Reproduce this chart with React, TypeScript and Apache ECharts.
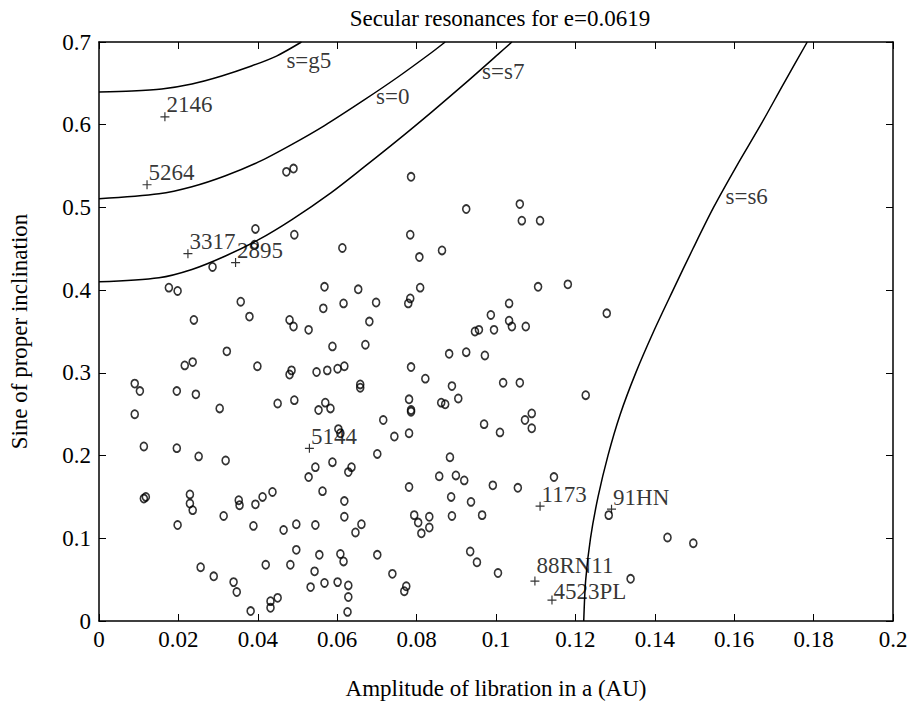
import React, { useEffect, useRef } from "react";
import * as echarts from "echarts";

const FONT = "'Liberation Serif', 'Times New Roman', serif";

const titleText = "Secular resonances for e=0.0619";
const xAxisTitle = "Amplitude of libration in a (AU)";
const yAxisTitle = "Sine of proper inclination";

// Asteroids plotted as 'o'
const circles: [number, number][] = [
  [0.0472, 0.543], [0.049, 0.547], [0.0394, 0.474], [0.0492, 0.467], [0.0613, 0.451],
  [0.0392, 0.455], [0.0286, 0.428], [0.0176, 0.403], [0.0198, 0.399], [0.0357, 0.386],
  [0.0379, 0.368], [0.0239, 0.364], [0.048, 0.364], [0.049, 0.356], [0.0528, 0.352],
  [0.0568, 0.404], [0.0565, 0.378], [0.0616, 0.384], [0.0588, 0.332], [0.0322, 0.326],
  [0.0216, 0.309], [0.0236, 0.313], [0.0399, 0.308], [0.048, 0.298], [0.0485, 0.303],
  [0.0548, 0.301], [0.0575, 0.303], [0.0601, 0.305], [0.0618, 0.308], [0.009, 0.287],
  [0.0103, 0.278], [0.0196, 0.278], [0.0244, 0.274], [0.009, 0.25], [0.0304, 0.257],
  [0.045, 0.263], [0.0492, 0.267], [0.0553, 0.255], [0.057, 0.264], [0.0583, 0.257],
  [0.0113, 0.211], [0.0196, 0.209], [0.0251, 0.199], [0.0319, 0.194], [0.0588, 0.192],
  [0.0545, 0.186], [0.0528, 0.174], [0.0563, 0.157], [0.0603, 0.232], [0.0608, 0.227],
  [0.0113, 0.148], [0.0118, 0.15], [0.0229, 0.153], [0.0229, 0.142], [0.0236, 0.134],
  [0.0352, 0.146], [0.0354, 0.14], [0.0394, 0.141], [0.0412, 0.15], [0.0437, 0.156],
  [0.0314, 0.127], [0.0198, 0.116], [0.0389, 0.115], [0.0465, 0.11], [0.0497, 0.117],
  [0.0545, 0.116], [0.0497, 0.086], [0.0555, 0.08], [0.0608, 0.081], [0.0616, 0.072],
  [0.042, 0.068], [0.0482, 0.068], [0.0543, 0.06], [0.0256, 0.065], [0.0289, 0.054],
  [0.0339, 0.047], [0.0347, 0.035], [0.0533, 0.041], [0.0568, 0.046], [0.0601, 0.047],
  [0.0432, 0.024], [0.045, 0.028], [0.0432, 0.016], [0.0382, 0.012], [0.0716, 0.243],
  [0.0786, 0.253], [0.0744, 0.223], [0.0781, 0.227], [0.097, 0.238], [0.101, 0.228],
  [0.1073, 0.243], [0.109, 0.251], [0.109, 0.233], [0.0701, 0.202], [0.0636, 0.186],
  [0.0628, 0.18], [0.0884, 0.198], [0.0857, 0.175], [0.0899, 0.176], [0.092, 0.17],
  [0.0992, 0.164], [0.1055, 0.161], [0.1146, 0.174], [0.0781, 0.162], [0.0618, 0.145],
  [0.0618, 0.126], [0.0661, 0.117], [0.0646, 0.107], [0.0794, 0.128], [0.0804, 0.119],
  [0.0812, 0.106], [0.0832, 0.126], [0.0832, 0.113], [0.0887, 0.15], [0.0937, 0.144],
  [0.0889, 0.127], [0.0965, 0.128], [0.0701, 0.08], [0.0935, 0.084], [0.0952, 0.071],
  [0.1005, 0.058], [0.0739, 0.057], [0.0628, 0.043], [0.0628, 0.029], [0.0626, 0.011],
  [0.0774, 0.042], [0.0769, 0.036], [0.0784, 0.467], [0.0807, 0.44], [0.0864, 0.448],
  [0.106, 0.504], [0.1065, 0.484], [0.1111, 0.484], [0.0786, 0.537], [0.0925, 0.498],
  [0.0653, 0.401], [0.0809, 0.403], [0.0698, 0.385], [0.0784, 0.39], [0.0779, 0.384],
  [0.1106, 0.404], [0.1181, 0.407], [0.0681, 0.362], [0.1033, 0.384], [0.0987, 0.37],
  [0.1033, 0.363], [0.0947, 0.35], [0.0957, 0.352], [0.0995, 0.352], [0.104, 0.356],
  [0.1075, 0.356], [0.0671, 0.334], [0.0882, 0.323], [0.0925, 0.325], [0.0972, 0.321],
  [0.0786, 0.307], [0.0822, 0.293], [0.0658, 0.286], [0.0658, 0.282], [0.0889, 0.284],
  [0.0781, 0.268], [0.0786, 0.255], [0.0862, 0.264], [0.0872, 0.262], [0.0905, 0.269],
  [0.1018, 0.288], [0.106, 0.288], [0.1279, 0.372], [0.1226, 0.273], [0.1432, 0.101],
  [0.1497, 0.094], [0.1339, 0.051], [0.1284, 0.128],
];

// Named asteroids plotted as '+'
const namedNames = ["2146", "5264", "3317", "2895", "5144", "1173", "91HN", "88RN11", "4523PL"];
const namedX = [0.0166, 0.0121, 0.0224, 0.0344, 0.053, 0.1111, 0.1291, 0.1098, 0.1141];
const namedY = [0.6095, 0.5274, 0.4441, 0.4333, 0.2088, 0.1388, 0.1352, 0.0483, 0.0253];

// Secular resonance curves
const curveG5: [number, number][] = [
  [0, 0.6396], [0.0083, 0.6408], [0.0158, 0.6433], [0.0234, 0.6493], [0.0309, 0.659],
  [0.0384, 0.671], [0.0447, 0.683], [0.051, 0.7],
];
const curveZero: [number, number][] = [
  [0, 0.5105], [0.0151, 0.5165], [0.0234, 0.525], [0.0317, 0.538], [0.0402, 0.555],
  [0.0485, 0.576], [0.0568, 0.599], [0.0668, 0.63], [0.0754, 0.658], [0.0837, 0.687],
  [0.0872, 0.7],
];
const curveS7: [number, number][] = [
  [0, 0.41], [0.0151, 0.415], [0.0234, 0.425], [0.0317, 0.441], [0.0402, 0.461],
  [0.0485, 0.485], [0.0585, 0.518], [0.0668, 0.549], [0.0754, 0.582], [0.0837, 0.615],
  [0.092, 0.649], [0.1005, 0.685], [0.104, 0.7],
];
const curveS6: [number, number][] = [
  [0.1221, 0], [0.1226, 0.05], [0.1238, 0.1], [0.1257, 0.15], [0.1282, 0.2],
  [0.1313, 0.25], [0.1352, 0.3], [0.1397, 0.35], [0.1446, 0.4], [0.1496, 0.45],
  [0.1548, 0.5], [0.1606, 0.55], [0.1667, 0.6], [0.1725, 0.65], [0.1784, 0.7],
];

const curveLabels = ["s=g5", "s=0", "s=s7", "s=s6"];
const curveLabelX = [0.0472, 0.0698, 0.0965, 0.1578];
const curveLabelY = [0.678, 0.6336, 0.6638, 0.5129];

const xTicks = { min: 0, max: 0.2, interval: 0.02 };
const yTicks = { min: 0, max: 0.7, interval: 0.1 };

const PLUS = "path://M4.35,0h1.3v4.35h4.35v1.3h-4.35v4.35h-1.3v-4.35h-4.35v-1.3h4.35z";
const FS = 23;

export default function App() {
  const ref = useRef<HTMLDivElement>(null);
  useEffect(() => {
    if (!ref.current) return;
    const chart = echarts.init(ref.current, null, { renderer: "svg" });
    const axisCommon = {
      axisLine: { show: true, onZero: false, lineStyle: { color: "#000", width: 1.5 } },
      axisTick: { show: true, inside: true, length: 7, lineStyle: { color: "#000", width: 1 } },
      splitLine: { show: false },
    };
    const lineSeries = (data: [number, number][]) => ({
      type: "line",
      data,
      smooth: 0.3,
      showSymbol: false,
      symbol: "none",
      lineStyle: { color: "#000", width: 1.5 },
      silent: true,
      z: 3,
    });
    // small vertical nudges so the two stacked labels do not collide
    const labelDy: Record<string, number> = { "88RN11": -16, "4523PL": -9 };
    chart.setOption({
      animation: false,
      backgroundColor: "#fff",
      textStyle: { fontFamily: FONT },
      title: {
        text: titleText,
        left: 495,
        top: 2,
        textAlign: "center",
        textStyle: { fontFamily: FONT, fontSize: FS, fontWeight: "normal", color: "#000" },
      },
      grid: { left: 97, right: 19, top: 42, bottom: 83, containLabel: false },
      xAxis: [
        {
          type: "value",
          position: "bottom",
          ...xTicks,
          ...axisCommon,
          name: xAxisTitle,
          nameLocation: "middle",
          nameGap: 56,
          nameTextStyle: { fontFamily: FONT, fontSize: FS, color: "#000" },
          axisLabel: { color: "#000", fontFamily: FONT, fontSize: FS, margin: 7 },
        },
        {
          type: "value",
          position: "top",
          ...xTicks,
          ...axisCommon,
          axisLabel: { show: false },
        },
      ],
      yAxis: [
        {
          type: "value",
          position: "left",
          ...yTicks,
          ...axisCommon,
          name: yAxisTitle,
          nameLocation: "middle",
          nameGap: 68,
          nameTextStyle: { fontFamily: FONT, fontSize: FS, color: "#000" },
          axisLabel: { color: "#000", fontFamily: FONT, fontSize: FS, margin: 8 },
        },
        {
          type: "value",
          position: "right",
          ...yTicks,
          ...axisCommon,
          axisLabel: { show: false },
        },
      ],
      series: [
        lineSeries(curveG5),
        lineSeries(curveZero),
        lineSeries(curveS7),
        lineSeries(curveS6),
        {
          type: "scatter",
          data: circles,
          symbol: "circle",
          symbolSize: [7, 8],
          itemStyle: { color: "rgba(0,0,0,0)", borderColor: "#000", borderWidth: 1.7 },
          z: 4,
        },
        {
          type: "scatter",
          data: namedNames.map((n, i) => ({
            name: n,
            value: [namedX[i], namedY[i]],
            label: { offset: [-3, labelDy[n] ?? -12] },
          })),
          symbol: PLUS,
          symbolSize: 9,
          itemStyle: { color: "#000" },
          label: {
            show: true,
            position: "right",
            distance: 0,
            offset: [-3, -12],
            formatter: "{b}",
            fontFamily: FONT,
            fontSize: FS,
            lineHeight: 17,
            color: "#000",
          },
          z: 5,
        },
        {
          type: "scatter",
          data: curveLabels.map((n, i) => ({ name: n, value: [curveLabelX[i], curveLabelY[i]] })),
          symbolSize: 0,
          itemStyle: { color: "rgba(0,0,0,0)" },
          label: {
            show: true,
            position: "right",
            distance: 0,
            formatter: "{b}",
            fontFamily: FONT,
            fontSize: FS,
            color: "#000",
          },
          z: 5,
        },
      ],
    });
    return () => chart.dispose();
  }, []);
  return (
    <div
      ref={ref}
      style={{ position: "fixed", left: 0, top: 0, width: 912, height: 705, background: "#fff" }}
    />
  );
}
